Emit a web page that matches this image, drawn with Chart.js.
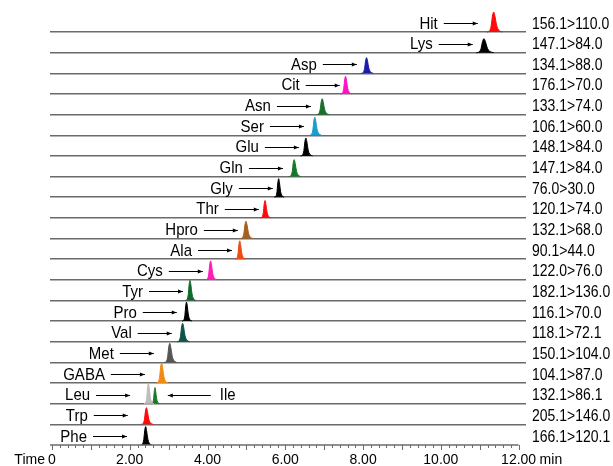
<!DOCTYPE html>
<html>
<head>
<meta charset="utf-8">
<script src="https://cdn.jsdelivr.net/npm/chart.js@4.4.1/dist/chart.umd.min.js"></script>
<style>
  html, body { margin: 0; padding: 0; background: #fff; }
  #wrap { width: 613px; height: 466px; position: relative; }
</style>
</head>
<body>
<div id="wrap"><canvas id="chart"></canvas></div>
<script>
// rows, top to bottom
const rowNames = ["Hit", "Lys", "Asp", "Cit", "Asn", "Ser", "Glu", "Gln", "Gly", "Thr", "Hpro",
	"Ala", "Cys", "Tyr", "Pro", "Val", "Met", "GABA", "Leu", "Trp", "Phe"];
const transitions = ["156.1>110.0", "147.1>84.0", "134.1>88.0", "176.1>70.0", "133.1>74.0",
	"106.1>60.0", "148.1>84.0", "147.1>84.0", "76.0>30.0", "120.1>74.0", "132.1>68.0",
	"90.1>44.0", "122.0>76.0", "182.1>136.0", "116.1>70.0", "118.1>72.1", "150.1>104.0",
	"104.1>87.0", "132.1>86.1", "205.1>146.0", "166.1>120.1"];

// peaks (Leu row holds Leu and Ile)
const peakNames = ["Hit", "Lys", "Asp", "Cit", "Asn", "Ser", "Glu", "Gln", "Gly", "Thr", "Hpro",
	"Ala", "Cys", "Tyr", "Pro", "Val", "Met", "GABA", "Leu", "Ile", "Trp", "Phe"];
const peakRows = [0, 1, 2, 3, 4, 5, 6, 7, 8, 9, 10, 11, 12, 13, 14, 15, 16, 17, 18, 18, 19, 20];
const retentionTimes = [11.36, 11.11, 8.09, 7.55, 6.95, 6.76, 6.53, 6.23, 5.83, 5.48, 4.99,
	4.83, 4.08, 3.55, 3.46, 3.36, 3.03, 2.82, 2.48, 2.65, 2.43, 2.41];
const peakHeights = [0.97, 0.68, 0.76, 0.86, 0.77, 0.87, 0.87, 0.82, 0.9, 0.84, 0.84,
	0.89, 0.92, 0.97, 0.92, 0.9, 0.93, 0.97, 1.0, 0.78, 0.81, 0.89];
const peakWidths = [1.1, 1.25, 0.85, 0.8, 0.9, 0.85, 0.85, 0.85, 0.7, 0.75, 0.9,
	0.75, 0.8, 0.75, 0.7, 0.9, 0.9, 0.85, 0.7, 0.6, 0.85, 0.8];
const peakColors = ["#ff0a0a", "#000000", "#1c1ca8", "#ff12c8", "#1b6e2c", "#1a9ccc", "#000000",
	"#16762a", "#000000", "#ff0a0a", "#a65f1e", "#ee4a14", "#ff1cb8", "#12682a", "#000000",
	"#0f514b", "#555555", "#f28a12", "#bdbdbd", "#1c7a2c", "#ff0a0a", "#000000"];
// where each label arrow points (min)
const arrowTargets = [10.95, 10.82, 7.84, 7.40, 6.66, 6.48, 6.35, 5.94, 5.68, 5.32, 4.78,
	4.63, 3.88, 3.37, 3.21, 3.08, 2.62, 2.39, 2.01, 2.98, 1.95, 1.93];

// shared peak profile (offset in min, fraction of height)
const profileDx = [-0.16, -0.1, -0.06, -0.03, 0, 0.03, 0.07, 0.12, 0.2];
const profileY = [0, 0.04, 0.3, 0.8, 1, 0.78, 0.32, 0.08, 0];

const xTickLabels = ["0", "2.00", "4.00", "6.00", "8.00", "10.00", "12.00"];

const ROWS = rowNames.length;
const FONT = "'Liberation Sans', Arial, sans-serif";
const TEXT_STRETCH = 1.12;

const rowBase = (r) => ROWS - 1 - r;

const datasets = peakNames.map((name, i) => {
	const base = rowBase(peakRows[i]);
	return {
		label: name,
		data: profileDx.map((dx, k) => ({
			x: retentionTimes[i] + dx * peakWidths[i],
			y: base + profileY[k] * peakHeights[i],
		})),
		showLine: true,
		borderColor: peakColors[i],
		backgroundColor: peakColors[i],
		borderWidth: 1,
		pointRadius: 0,
		tension: 0.3,
		fill: { value: base },
	};
});

const arrow = (ctx, x1, x2, y) => {
	ctx.beginPath();
	ctx.moveTo(x1, y);
	ctx.lineTo(x2, y);
	ctx.stroke();
	const d = x2 > x1 ? 1 : -1;
	ctx.beginPath();
	ctx.moveTo(x2, y);
	ctx.lineTo(x2 - d * 5, y - 2);
	ctx.lineTo(x2 - d * 5, y + 2);
	ctx.closePath();
	ctx.fill();
};

// text a bit taller than wide, like the original figure
const tallText = (ctx, s, x, y) => {
	ctx.save();
	ctx.translate(x, y);
	ctx.scale(1, TEXT_STRETCH);
	ctx.fillText(s, 0, 0);
	ctx.restore();
};

const overlay = {
	id: "overlay",
	afterDatasetsDraw(chart) {
		const ctx = chart.ctx;
		const xs = chart.scales.x;
		const ys = chart.scales.y;
		const area = chart.chartArea;
		ctx.save();

		// axis line + ticks
		const y0 = ys.getPixelForValue(0);
		ctx.strokeStyle = "#6b6b6b";
		ctx.lineWidth = 1.5;
		ctx.beginPath();
		ctx.moveTo(area.left, y0);
		ctx.lineTo(xs.getPixelForValue(12), y0);
		ctx.stroke();
		ctx.lineWidth = 1;
		for (let t = 0; t <= 60; t++) {
			const px = Math.round(xs.getPixelForValue(t / 5)) + 0.5;
			ctx.beginPath();
			ctx.moveTo(px, y0);
			ctx.lineTo(px, y0 + (t % 5 === 0 ? 5 : 3));
			ctx.stroke();
		}

		// names + arrows
		ctx.fillStyle = "#000";
		ctx.strokeStyle = "#000";
		ctx.lineWidth = 1;
		ctx.font = "15px " + FONT;
		ctx.textBaseline = "alphabetic";
		peakNames.forEach((name, i) => {
			const yb = ys.getPixelForValue(rowBase(peakRows[i]));
			const ya = Math.round(yb - 9) + 0.5;
			const head = xs.getPixelForValue(arrowTargets[i]);
			if (name === "Ile") {
				arrow(ctx, head + 43, head, ya);
				ctx.textAlign = "left";
				tallText(ctx, name, head + 52, yb - 3.5);
			} else {
				arrow(ctx, head - 34, head, ya);
				ctx.textAlign = "right";
				tallText(ctx, name, head - 40, yb - 3.5);
			}
		});

		// transitions
		ctx.font = "14px " + FONT;
		ctx.textAlign = "left";
		transitions.forEach((t, r) => {
			tallText(ctx, t, area.right + 6, ys.getPixelForValue(rowBase(r)) - 3.5);
		});

		// axis words
		ctx.textBaseline = "middle";
		ctx.textAlign = "right";
		ctx.fillText("Time", xs.getPixelForValue(0) - 7, 460);
		ctx.textAlign = "left";
		ctx.fillText("min", xs.getPixelForValue(12) + 21, 460);
		ctx.restore();
	},
};

new Chart(document.getElementById("chart"), {
	type: "scatter",
	data: { datasets },
	options: {
		responsive: true,
		maintainAspectRatio: false,
		animation: false,
		layout: { padding: { left: 50, right: 87, top: 11.4, bottom: 0 } },
		plugins: { legend: { display: false }, tooltip: { enabled: false } },
		scales: {
			x: {
				type: "linear",
				min: -0.05,
				max: 12.19,
				border: { display: false },
				grid: { display: false, drawTicks: false },
				ticks: {
					stepSize: 2,
					includeBounds: false,
					maxRotation: 0,
					autoSkip: false,
					padding: 7,
					color: "#000",
					font: { family: FONT, size: 14 },
					callback: (v) => xTickLabels[Math.round(v / 2)],
				},
				afterFit: (s) => { s.height = 21; },
			},
			y: {
				type: "linear",
				min: 0,
				max: ROWS,
				border: { display: false },
				ticks: { display: false, stepSize: 1 },
				grid: {
					drawTicks: false,
					lineWidth: 1.5,
					color: (c) => (c.tick.value === 0 || c.tick.value === ROWS ? "rgba(0,0,0,0)" : "#6b6b6b"),
				},
				afterFit: (s) => { s.width = 0; },
			},
		},
	},
	plugins: [overlay],
});
</script>
</body>
</html>
